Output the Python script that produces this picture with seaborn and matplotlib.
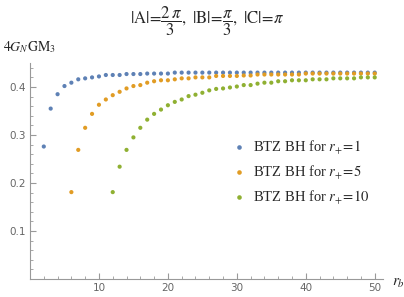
import numpy as np
import pandas as pd
import matplotlib
matplotlib.use("Agg")
import matplotlib.pyplot as plt
from matplotlib.ticker import MultipleLocator
from matplotlib.lines import Line2D
import seaborn as sns

# ---- data ----
rb_1 = list(range(2, 51))
val_1 = [0.276, 0.355, 0.385, 0.402, 0.409, 0.416, 0.418, 0.420, 0.422,
         0.425, 0.425, 0.425, 0.427, 0.427, 0.427, 0.428, 0.428, 0.428, 0.428,
         0.430, 0.430, 0.430, 0.430, 0.430, 0.430, 0.430, 0.430, 0.430, 0.430,
         0.430, 0.430, 0.430, 0.430, 0.430, 0.430, 0.430, 0.430, 0.430, 0.430,
         0.430, 0.430, 0.430, 0.430, 0.430, 0.430, 0.430, 0.430, 0.430, 0.430]
rb_5 = list(range(6, 51))
val_5 = [0.181, 0.269, 0.315, 0.344, 0.363, 0.374, 0.383, 0.390, 0.397,
         0.402, 0.404, 0.409, 0.412, 0.414, 0.414, 0.416, 0.418, 0.418, 0.420,
         0.420, 0.420, 0.423, 0.423, 0.423, 0.423, 0.424, 0.424, 0.426, 0.426,
         0.426, 0.426, 0.426, 0.426, 0.426, 0.428, 0.428, 0.428, 0.428, 0.428,
         0.428, 0.428, 0.428, 0.428, 0.428, 0.428]
rb_10 = list(range(12, 51))
val_10 = [0.181, 0.234, 0.269, 0.295, 0.315, 0.332, 0.344, 0.353, 0.362,
          0.369, 0.374, 0.381, 0.384, 0.388, 0.393, 0.396, 0.397, 0.399, 0.401,
          0.404, 0.404, 0.407, 0.409, 0.409, 0.412, 0.412, 0.414, 0.414, 0.414,
          0.416, 0.416, 0.416, 0.418, 0.418, 0.418, 0.418, 0.420, 0.420, 0.420]
labels = [r"BTZ BH for $r_{+}\!=\!1$", r"BTZ BH for $r_{+}\!=\!5$",
          r"BTZ BH for $r_{+}\!=\!10$"]
colors = ["#5E81B5", "#E19C24", "#8FB032"]

df = pd.concat([
    pd.DataFrame({"rb": rb_1, "v": val_1, "s": labels[0]}),
    pd.DataFrame({"rb": rb_5, "v": val_5, "s": labels[1]}),
    pd.DataFrame({"rb": rb_10, "v": val_10, "s": labels[2]}),
])

sns.set_style("white")
plt.rcParams["mathtext.fontset"] = "stix"
plt.rcParams["font.family"] = ["DejaVu Sans"]
plt.rcParams["xtick.bottom"] = True
plt.rcParams["ytick.left"] = True

fig = plt.figure(figsize=(4.04, 2.97), dpi=100)
ax = fig.add_axes([30/404, 1 - 279/297, 353/404, 216/297])

sns.scatterplot(data=df, x="rb", y="v", hue="s", palette=colors,
                s=9, linewidth=0, ax=ax, legend=False)

ax.set_xlim(0, 51.2)
ax.set_ylim(0, 0.45)
ax.set_xlabel("")
ax.set_ylabel("")
for sp in ["top", "right"]:
    ax.spines[sp].set_visible(False)
for sp in ["left", "bottom"]:
    ax.spines[sp].set_color("#999999")
    ax.spines[sp].set_linewidth(0.8)

ax.xaxis.set_major_locator(MultipleLocator(10))
ax.xaxis.set_minor_locator(MultipleLocator(2))
ax.yaxis.set_major_locator(MultipleLocator(0.1))
ax.yaxis.set_minor_locator(MultipleLocator(0.02))
ax.set_xticks([10, 20, 30, 40, 50])
ax.set_yticks([0.1, 0.2, 0.3, 0.4])
ax.tick_params(which="both", bottom=True, left=True, top=False, right=False)
ax.tick_params(which="major", direction="in", length=4, width=0.8,
               color="#999999", labelsize=7.5, labelcolor="#666666", pad=3)
ax.tick_params(which="minor", direction="in", length=2.3, width=0.6,
               color="#999999")

title = (r"$|\mathrm{A}|\!=\!\dfrac{2\,\pi}{3},\ |\mathrm{B}|\!=\!\dfrac{\pi}{3},"
         r"\ |\mathrm{C}|\!=\!\pi$")
fig.text(207/404, 1 - 21/297, title, ha="center", va="center", fontsize=12)
fig.text(3/404, 1 - 47/297, r"$4G_N\mathrm{GM}_3$", ha="left", va="center",
         fontsize=10)
fig.text(392/404, 1 - 283/297, r"$r_b$", ha="left", va="center", fontsize=11)

handles = [Line2D([], [], marker="o", linestyle="", markersize=3.3,
                  markerfacecolor=c, markeredgewidth=0) for c in colors]
leg = ax.legend(handles, labels, loc="upper left",
                bbox_to_anchor=(224/404, 1 - 132/297),
                bbox_transform=fig.transFigure, frameon=False,
                prop={"family": "Liberation Serif", "size": 10.5},
                handletextpad=0.5, labelspacing=0.45, handlelength=1.0,
                borderpad=0)

fig.savefig("out.png", dpi=100)
